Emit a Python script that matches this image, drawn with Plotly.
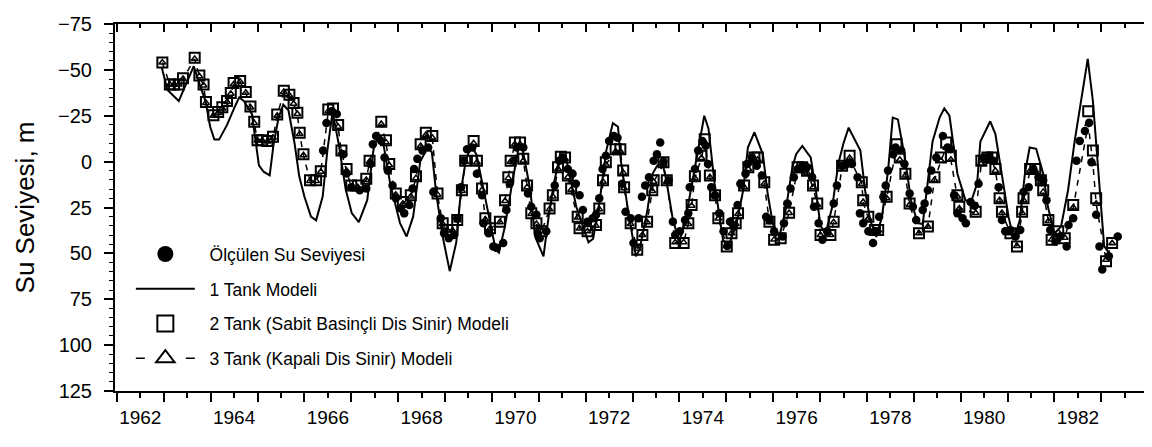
import plotly.graph_objects as go

# ---------------- data ----------------
tank1_x = [1962.46, 1962.58, 1962.82, 1963.14, 1963.28, 1963.39, 1963.49, 1963.58, 1963.68, 1963.85,
           1964.00, 1964.11, 1964.21, 1964.38, 1964.45, 1964.53, 1964.63, 1964.76, 1964.84, 1964.95,
           1965.05, 1965.16, 1965.29, 1965.39, 1965.50, 1965.64, 1965.75, 1965.89, 1965.99, 1966.10,
           1966.23, 1966.38, 1966.51, 1966.66, 1966.84, 1966.98, 1967.08, 1967.17, 1967.33, 1967.54,
           1967.68, 1967.82, 1967.97, 1968.13, 1968.22, 1968.31, 1968.45, 1968.60, 1968.74, 1968.84,
           1968.94, 1969.05, 1969.17, 1969.37, 1969.58, 1969.65, 1969.78, 1969.93, 1970.07, 1970.16,
           1970.32, 1970.42, 1970.60, 1970.71, 1970.82, 1970.95, 1971.09, 1971.30, 1971.56, 1971.66,
           1971.80, 1971.94, 1972.08, 1972.19, 1972.25, 1972.40, 1972.57, 1972.65, 1972.82, 1972.93,
           1973.03, 1973.14, 1973.22, 1973.35, 1973.49, 1973.62, 1973.77, 1973.91, 1974.03, 1974.12,
           1974.25, 1974.43, 1974.55, 1974.72, 1974.86, 1974.96, 1975.10, 1975.28, 1975.38, 1975.49,
           1975.63, 1975.77, 1975.91, 1975.99, 1976.12, 1976.30, 1976.41, 1976.51, 1976.62, 1976.76,
           1976.89, 1977.00, 1977.11, 1977.36, 1977.46, 1977.57, 1977.70, 1977.82, 1977.95, 1978.05,
           1978.16, 1978.31, 1978.44, 1978.58, 1978.69, 1978.90, 1979.05, 1979.15, 1979.26, 1979.43,
           1979.60, 1979.72, 1979.85, 1979.92, 1980.13, 1980.24, 1980.37, 1980.52, 1980.63, 1980.76,
           1980.87, 1980.97, 1981.11, 1981.26, 1981.36, 1981.50, 1981.64, 1981.79, 1981.93, 1982.06,
           1982.21, 1982.32, 1982.45, 1982.56, 1982.67]
tank1_y = [-51, -39, -33, -52, -41, -33, -19, -12, -12, -20,
           -29, -35, -33, -26, -13, 2, 5.5, 7.5, -9, -24,
           -31, -28, -10, 8, 19, 30, 32, 19, -6, -27,
           -10, 15, 28, 33, 21, -7.7, -15, -12, 12, 33.5,
           40.8, 30, 0, -7.7, -5, 17, 40.8, 59.7, 44, 15.6,
           0, -8.6, -4, 21, 48, 49.6, 35, 12, -7.7, -6,
           15.6, 40.8, 51.6, 30, 12, -3, -1, 24.6, 44, 42,
           21, -6, -21, -19, -0.5, 26, 51.6, 48, 26, 6.5,
           2, 1, 10, 30, 44, 33, 12, -6, -25, -18,
           12, 42.6, 46, 33.5, 15.6, -7.7, -16, -4, 17, 33.5,
           41, 26, 3, -4, -8.6, -2.3, 15.6, 35, 39, 24.6,
           1, -10, -18.5, -6, 15.6, 32, 41, 30, 5, -24,
           -23, -2, 21, 33.5, 34, -11, -24, -29, -25, 6.6,
           21, 22, 12, -11, -22, -15, 6.6, 30, 42.6, 32,
           6.6, -7.7, -7, 6.6, 24.6, 39, 35.4, 15.6, -11, -33,
           -56, -33, 10, 46, 50]

tank2_x = [1962.47, 1962.63, 1962.72, 1962.82, 1962.91, 1963.16, 1963.26, 1963.35, 1963.40, 1963.56,
           1963.66, 1963.75, 1963.85, 1963.93, 1963.99, 1964.13, 1964.25, 1964.35, 1964.43, 1964.50,
           1964.60, 1964.71, 1964.83, 1964.92, 1965.06, 1965.18, 1965.27, 1965.35, 1965.40, 1965.48,
           1965.62, 1965.75, 1965.85, 1966.01, 1966.11, 1966.22, 1966.29, 1966.40, 1966.50, 1966.64,
           1966.82, 1966.89, 1967.14, 1967.24, 1967.31, 1967.45, 1967.60, 1967.77, 1967.88, 1967.98,
           1968.09, 1968.23, 1968.34, 1968.45, 1968.55, 1968.66, 1968.76, 1968.86, 1968.93, 1969.11,
           1969.18, 1969.29, 1969.36, 1969.46, 1969.67, 1969.78, 1969.85, 1969.90, 1969.99, 1970.10,
           1970.17, 1970.25, 1970.34, 1970.45, 1970.56, 1970.73, 1970.80, 1970.91, 1970.97, 1971.06,
           1971.12, 1971.19, 1971.33, 1971.37, 1971.54, 1971.72, 1971.79, 1971.87, 1971.93, 1972.14,
           1972.24, 1972.30, 1972.32, 1972.46, 1972.60, 1972.71, 1972.81, 1972.92, 1972.95, 1973.16,
           1973.23, 1973.41, 1973.59, 1973.69, 1973.76, 1973.83, 1973.97, 1974.04, 1974.15, 1974.26,
           1974.33, 1974.51, 1974.61, 1974.70, 1974.75, 1974.88, 1974.97, 1975.10, 1975.17, 1975.31,
           1975.42, 1975.52, 1975.66, 1975.84, 1976.02, 1976.12, 1976.22, 1976.35, 1976.44, 1976.51,
           1976.72, 1976.79, 1976.97, 1977.13, 1977.39, 1977.42, 1977.53, 1977.67, 1977.74, 1977.92,
           1978.13, 1978.20, 1978.32, 1978.41, 1978.61, 1978.80, 1978.94, 1979.08, 1979.19, 1979.29,
           1979.43, 1979.47, 1979.82, 1979.94, 1980.07, 1980.17, 1980.24, 1980.33, 1980.38, 1980.56,
           1980.70, 1980.81, 1980.84, 1980.98, 1981.09, 1981.21, 1981.26, 1981.37, 1981.44, 1981.58,
           1981.72, 1981.90, 1982.22, 1982.32, 1982.39, 1982.60, 1982.73]
tank2_y = [-54, -42, -42, -42, -45.5, -56.6, -47, -42, -32.5, -25.3,
           -27, -29.6, -33, -37.4, -42.8, -44, -38, -30, -21.7, -11.7,
           -11.7, -11.3, -13.5, -25.7, -38.6, -36.5, -32, -26.6, -15.8, -4,
           10.2, 10.2, 5.2, -28.4, -29, -20, -6, 4, 13, 13,
           9.3, -0.5, -21.7, -11.7, 1.3, 17.4, 22, 18.3, 8, -9.5,
           -15.8, -14, 17.4, 33.6, 37.2, 37.2, 31.8, 15.6, -0.5, -11.3,
           -0.5, 14.7, 30.9, 36.3, 32.7, 21, 8.5, -0.5, -10.4, -10.4,
           -1.5, 13, 28.2, 33.6, 38, 25.5, 18.3, 3, -2.7, -2.3,
           7.5, 14.7, 30, 36.3, 38, 34.5, 25.5, 10.2, 0.4, -6.8,
           -6.8, 4.9, 13.9, 33.6, 48, 40, 32.7, 15.6, 10.2, 0.4,
           10.2, 44.4, 44.4, 33.6, 23.7, 8, -3.2, -12.2, 7.5, 18.3,
           30.9, 46.2, 39, 33.6, 28.2, 13, 3, -2.3, -2.3, 11.2,
           32.7, 42.6, 41.7, 27.8, 3, 3, 5, 13, 22.8, 40,
           40, 32.7, 2.2, -3.2, 11.2, 21, 30, 37.2, 37.2, 19.2,
           -9.5, -2.3, 6.6, 22.8, 39, 35.4, 8.5, -2.3, -10.4, -3.2,
           18.3, 24.6, 27.3, -0.5, -2.3, -2.3, 4, 20, 27.3, 39,
           46.2, 27.3, 20, 4, 4, 10.2, 15.6, 31.8, 42.6, 38,
           41.7, 23.7, -27.5, -6, 20, 54.3, 44.4]

tank3_x = tank2_x
tank3_y = [-54, -42, -42, -42, -45, -56, -46.5, -41.5, -32, -25,
           -26.5, -29, -32.5, -37, -42, -43.5, -37.5, -29.5, -21, -11.5,
           -11.5, -11, -13, -25, -38, -36, -31.5, -26, -15, -3.5,
           10.5, 10.5, 5.5, -27.5, -28, -19, -5, 5, 14, 14,
           10, 0, -20.5, -10.5, 2, 18, 23, 19, 9, -8.5,
           -14.5, -13, 18, 34, 37.5, 37.5, 32, 16, 0, -10,
           0.5, 15.5, 31.5, 36.5, 33, 21.5, 9, 0, -9.5, -9.5,
           -0.5, 14, 28.5, 34, 38, 26, 19, 4, -1.5, -1.5,
           8.5, 15.5, 30.5, 36.5, 38, 35, 26, 11, 1.5, -5.5,
           -5.5, 6, 14.5, 34, 47.5, 40, 33, 16, 11, 1.5,
           11, 44, 44, 34, 24, 9, -2, -10.5, 8.5, 19,
           31, 46, 39, 34, 28.5, 14, 4, -1, -1, 12,
           33, 42.5, 41.5, 28, 4, 4, 6, 14, 23.5, 40,
           40, 33, 3, -2, 12, 22, 31, 37.5, 37.5, 20,
           -7.5, -1, 7.5, 23.5, 39, 35.5, 10, -0.5, -7.5, -1,
           19, 25.5, 28, 1, -1, -1, 5, 21, 28, 39,
           46, 28, 21, 5, 5, 11, 16.5, 32.5, 42.5, 38.5,
           41.5, 25, -20.5, 1, 23, 53.5, 44.5]

meas_x = [1965.90, 1965.97, 1966.08, 1966.19, 1966.33, 1966.40, 1966.50, 1966.68, 1966.82, 1966.91,
          1966.96, 1967.03, 1967.14, 1967.21, 1967.28, 1967.38, 1967.45, 1967.56, 1967.63, 1967.74,
          1967.81, 1967.84, 1967.91, 1968.02, 1968.14, 1968.25, 1968.41, 1968.48, 1968.58, 1968.69,
          1968.76, 1968.84, 1968.90, 1968.97, 1969.08, 1969.18, 1969.29, 1969.32, 1969.43, 1969.53,
          1969.60, 1969.74, 1969.81, 1969.88, 1969.96, 1970.03, 1970.17, 1970.27, 1970.34, 1970.45,
          1970.48, 1970.52, 1970.66, 1970.84, 1970.94, 1971.01, 1971.12, 1971.22, 1971.29, 1971.37,
          1971.44, 1971.54, 1971.65, 1971.72, 1971.79, 1971.86, 1971.93, 1972.00, 1972.10, 1972.18,
          1972.28, 1972.35, 1972.46, 1972.52, 1972.63, 1972.70, 1972.77, 1972.85, 1972.95, 1973.02,
          1973.09, 1973.16, 1973.27, 1973.36, 1973.41, 1973.51, 1973.62, 1973.69, 1973.72, 1973.83,
          1973.90, 1973.99, 1974.06, 1974.11, 1974.18, 1974.26, 1974.35, 1974.44, 1974.52, 1974.58,
          1974.66, 1974.74, 1974.80, 1974.91, 1974.94, 1975.05, 1975.15, 1975.26, 1975.35, 1975.42,
          1975.52, 1975.70, 1975.73, 1975.80, 1975.87, 1975.94, 1976.02, 1976.12, 1976.22, 1976.33,
          1976.37, 1976.47, 1976.55, 1976.65, 1976.79, 1976.86, 1976.97, 1977.07, 1977.18, 1977.30,
          1977.35, 1977.42, 1977.53, 1977.63, 1977.69, 1977.76, 1977.85, 1977.90, 1977.95, 1978.06,
          1978.11, 1978.23, 1978.30, 1978.41, 1978.48, 1978.55, 1978.69, 1978.73, 1978.80, 1978.87,
          1978.98, 1979.12, 1979.22, 1979.29, 1979.36, 1979.43, 1979.54, 1979.61, 1979.71, 1979.80,
          1979.88, 1979.99, 1980.10, 1980.20, 1980.31, 1980.38, 1980.45, 1980.56, 1980.67, 1980.77,
          1980.84, 1980.95, 1981.05, 1981.16, 1981.26, 1981.33, 1981.41, 1981.52, 1981.62, 1981.76,
          1981.80, 1981.90, 1981.97, 1982.04, 1982.15, 1982.24, 1982.29, 1982.39, 1982.46, 1982.52,
          1982.66, 1982.85]
meas_y = [-6, -21, -27.5, -26, -4, 6.5, 13.9, 15.6, 14.7, 1.3,
          -9.5, -14, -11.3, -2.3, 4.9, 13, 20, 25.5, 28.2, 23.7,
          14.7, 4, -1.5, -6, -7.7, 16.5, 30.9, 39, 41.7, 40,
          30.9, 13.9, -0.5, -6.8, -7.7, 6.6, 18.3, 33.6, 39, 46.2,
          47, 44.4, 26.4, 12, -0.5, -7.7, -7.7, 17.4, 24.6, 29,
          39, 41.7, 38, 13, -0.5, -2.3, 4, 6.6, 12, 18.3,
          26.4, 32.7, 30.9, 29, 20, 4, -3.2, -11.3, -14, -13,
          12, 27.3, 30.9, 44.4, 30.9, 19.2, 13, 8.5, -0.5, -4,
          -10.4, 0, 10.2, 32.7, 40, 38, 31.8, 28.2, 13.9, 4,
          -6, -11.3, -8.6, 1.3, 13.9, 18.3, 28.2, 38, 46, 32.7,
          35.4, 23.7, 12, 6.6, 1.3, -2.3, 2.2, 7.5, 30, 31.8,
          38, 40.8, 33.6, 22.8, 14.7, 8.5, 4, 2.2, 3, 8.5,
          24.6, 33.6, 42.6, 38, 22.8, 13, 2.2, 1.3, 1.3, 8.5,
          28.2, 33.6, 38, 44.4, 38, 30, 19.2, 13, 4.9, -4,
          -7.7, -6, 1.3, 17.4, 24.6, 31.8, 26.4, 22.8, 15.6, 4.9,
          -2.3, -14, -7.7, -6.8, 18.3, 28.2, 30.9, 33.6, 22, 24,
          12, -2.3, -3.2, -0.5, 13.9, 31.8, 38, 37.2, 40.8, 37.2,
          16.5, 13.9, 4, 8.5, 10.2, 21, 37.2, 43.5, 40.8, 46.2,
          34.5, 30.9, -0.5, -11.3, -16.7, -21.2, 0.4, 29, 46.2, 58.8,
          51.6, 40.8]

year_ticks = list(range(1962, 1984))
year_labels = [str(y) if y % 2 == 0 else "" for y in year_ticks]
half_ticks = [y + 0.5 for y in range(1961, 1984)]
y_ticks = [-75, -50, -25, 0, 25, 50, 75, 100, 125]

names = ["Ölçülen Su Seviyesi", "1 Tank Modeli",
         "2 Tank (Sabit Basinçli Dis Sinir) Modeli", "3 Tank (Kapali Dis Sinir) Modeli"]

# ---------------- figure ----------------
FONT = "Arial, Liberation Sans, sans-serif"
XR = [1961.46, 1983.41]
PAD = "\u00a0\u00a0"

fig = go.Figure()
fig.add_trace(go.Scatter(x=tank1_x, y=tank1_y, mode="lines", line=dict(color="black", width=2),
                         showlegend=False, hoverinfo="skip"))
fig.add_trace(go.Scatter(x=tank3_x, y=tank3_y, mode="lines+markers",
                         line=dict(color="black", width=1.5, dash="6px,6px"),
                         marker=dict(symbol="triangle-up-open", size=6, color="black", line=dict(width=1.5)),
                         showlegend=False))
fig.add_trace(go.Scatter(x=tank2_x, y=tank2_y, mode="markers",
                         marker=dict(symbol="square-open", size=10, color="black", line=dict(width=2)),
                         showlegend=False))
fig.add_trace(go.Scatter(x=meas_x, y=meas_y, mode="markers",
                         marker=dict(symbol="circle", size=8.5, color="black"),
                         showlegend=False))

# legend entries
fig.add_trace(go.Scatter(x=[None], y=[None], mode="markers", name=PAD + names[0], legendgroup="a",
                         marker=dict(symbol="circle", size=16, color="black")))
fig.add_trace(go.Scatter(x=[None], y=[None], mode="lines", name=PAD + names[1], legendgroup="b",
                         line=dict(color="black", width=2)))
fig.add_trace(go.Scatter(x=[None], y=[None], mode="markers", name=PAD + names[2], legendgroup="c",
                         marker=dict(symbol="square-open", size=16, color="black", line=dict(width=2))))
fig.add_trace(go.Scatter(x=[None], y=[None], mode="lines+markers", name=PAD + names[3], legendgroup="d",
                         line=dict(color="black", width=1.5, dash="9px,41px"),
                         marker=dict(symbol="triangle-up-open", size=16, color="black", line=dict(width=2))))

# dummy traces for extra tick axes
for ax in ["x2", "x3", "x4"]:
    fig.add_trace(go.Scatter(x=[None], y=[None], xaxis=ax, yaxis="y", showlegend=False, hoverinfo="skip"))

common_x = dict(range=XR, showgrid=False, zeroline=False, fixedrange=True)
fig.update_layout(
    width=1152, height=447,
    margin=dict(l=107, r=5, t=12, b=64),
    paper_bgcolor="white", plot_bgcolor="white",
    font=dict(family=FONT, color="black", size=19),
    showlegend=True,
    legend=dict(x=0.0154, y=0.422, xanchor="left", yanchor="top", bgcolor="rgba(0,0,0,0)",
                font=dict(size=17.5, family=FONT), itemwidth=59, tracegroupgap=9,
                traceorder="grouped", itemsizing="trace"),
    xaxis=dict(**common_x, tickmode="array", tickvals=year_ticks, ticktext=year_labels,
               ticks="outside", ticklen=5, tickwidth=1.5, tickcolor="black",
               showline=True, linewidth=2, linecolor="black",
               tickfont=dict(size=19, family=FONT), ticklabelstandoff=3),
    xaxis2=dict(**common_x, overlaying="x", anchor="y", side="bottom", tickmode="array",
                tickvals=half_ticks, ticks="outside", ticklen=10, tickwidth=1.5, tickcolor="black",
                showticklabels=False, showline=False),
    xaxis3=dict(**common_x, overlaying="x", anchor="y", side="top", tickmode="array",
                tickvals=year_ticks, ticks="inside", ticklen=4, tickwidth=1.5, tickcolor="black",
                showticklabels=False, showline=True, linewidth=2, linecolor="black"),
    xaxis4=dict(**common_x, overlaying="x", anchor="y", side="top", tickmode="array",
                tickvals=half_ticks, ticks="inside", ticklen=8, tickwidth=1.5, tickcolor="black",
                showticklabels=False, showline=False),
    yaxis=dict(range=[125, -75], tickmode="array", tickvals=y_ticks,
               ticks="outside", ticklen=9, tickwidth=1.5, tickcolor="black",
               minor=dict(dtick=5, tick0=0, ticks="outside", ticklen=4, tickwidth=1, tickcolor="black"),
               showline=True, linewidth=2, linecolor="black", mirror="ticks",
               showgrid=False, zeroline=False, fixedrange=True,
               tickfont=dict(size=20, family=FONT), ticklabelstandoff=8,
               title=dict(text="Su Seviyesi, m", font=dict(size=26, family=FONT), standoff=16)),
)

fig.write_html("out.html")
